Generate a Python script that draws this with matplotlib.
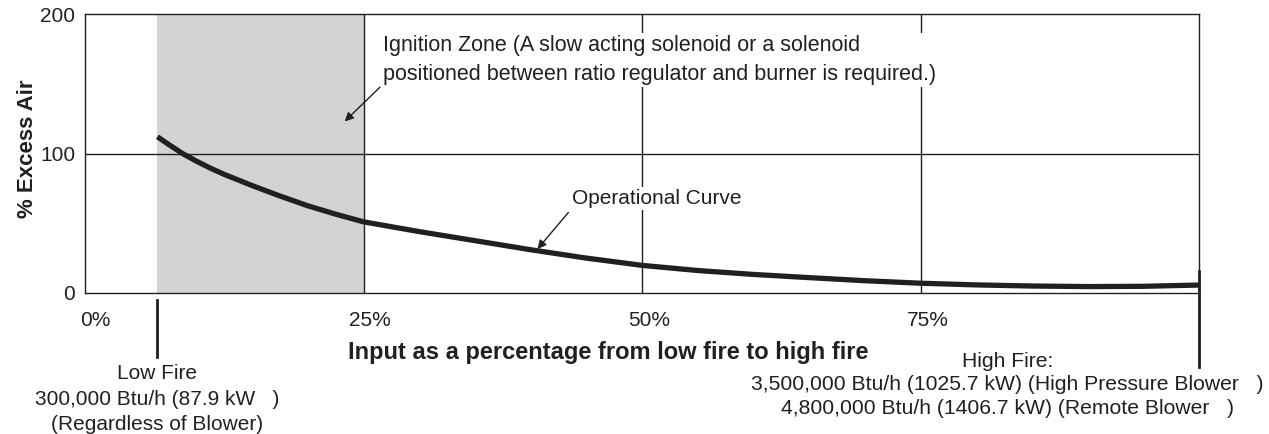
import numpy as np
import matplotlib
matplotlib.use('Agg')
import matplotlib.pyplot as plt
import matplotlib.transforms as mtransforms

plt.rcParams['font.family'] = ['Liberation Sans', 'DejaVu Sans']

INK = '#231f20'
ZONE = '#d1d3d4'

# operational curve (% input -> % excess air)
input_pct = [6.5, 7.5, 8.75, 10, 11.25, 12.5, 15, 17.5, 20, 22.5, 25, 30, 35,
             40, 45, 50, 55, 60, 65, 70, 75, 80, 85, 90, 95, 100]
excess_air = [112, 106.5, 100, 94.5, 89.5, 85, 77, 69.5, 62.5, 56.5, 51, 44,
              37.5, 31, 25, 19.8, 16.1, 13.3, 11, 8.8, 7, 5.8, 5, 4.6, 4.8, 5.7]

low_fire = 6.5
high_fire = 100
ignition_end = 25
x_grid = [25, 50, 75]
x_tick_labels = ['0%', '25%', '50%', '75%']
x_tick_pos = [0.9, 25.6, 50.6, 75.6]
y_ticks = [0, 100, 200]

fig = plt.figure(figsize=(12.69, 4.34), dpi=100)
ax = fig.add_axes([0.067, 0.3249, 0.8781, 0.6428])
ax.set_xlim(0, 100)
ax.set_ylim(0, 200)

ax.axvspan(low_fire, ignition_end, color=ZONE, lw=0, zorder=0)
for xg in x_grid:
    ax.axvline(xg, color=INK, lw=1.0, zorder=1)
ax.axhline(100, color=INK, lw=1.0, zorder=1)

ax.plot(input_pct, excess_air, color=INK, lw=3.8, solid_capstyle='butt',
        solid_joinstyle='round', zorder=3)

for s in ax.spines.values():
    s.set_color(INK)
    s.set_linewidth(1.0)

ax.set_xticks([])
ax.set_yticks(y_ticks)
ax.set_yticklabels([str(v) for v in y_ticks], fontsize=15, color=INK)
ax.tick_params(axis='y', length=0, pad=7)

trans = mtransforms.blended_transform_factory(ax.transData, ax.transAxes)
for xp, lab in zip(x_tick_pos, x_tick_labels):
    ax.text(xp, -0.097, lab, transform=trans, ha='center', va='center',
            fontsize=15, color=INK)

# low / high fire markers below the axis
ax.plot([low_fire, low_fire], [-0.025, -0.229], transform=trans, color=INK,
        lw=2, clip_on=False)
ax.plot([high_fire, high_fire], [0.079, -0.265], transform=trans, color=INK,
        lw=2, clip_on=False)

ax.text(-0.052, 0.516, '% Excess Air', transform=ax.transAxes, rotation=90,
        ha='center', va='center', fontsize=16, fontweight='bold', color=INK)
ax.text(0.470, -0.212, 'Input as a percentage from low fire to high fire',
        transform=ax.transAxes, ha='center', va='center', fontsize=17,
        fontweight='bold', color=INK)

ax.text(low_fire, -0.380,
        'Low Fire\n300,000 Btu/h (87.9 kW   )\n(Regardless of Blower)',
        transform=trans, ha='center', va='center', fontsize=15, color=INK,
        linespacing=1.45)
ax.text(0.828, -0.247, 'High Fire:', transform=ax.transAxes, ha='center',
        va='center', fontsize=15.2, color=INK)
ax.text(0.828, -0.371,
        '3,500,000 Btu/h (1025.7 kW) (High Pressure Blower   )\n'
        '4,800,000 Btu/h (1406.7 kW) (Remote Blower   )',
        transform=ax.transAxes, ha='center', va='center', fontsize=15.2,
        color=INK, linespacing=1.3)

box = dict(facecolor='white', edgecolor='none', pad=1.5)
ax.annotate('Ignition Zone (A slow acting solenoid or a solenoid\n'
            'positioned between ratio regulator and burner is required.)',
            xy=(23.3, 123), xytext=(26.7, 167), textcoords='data',
            ha='left', va='center', fontsize=15.5, color=INK, linespacing=1.45,
            bbox=box, zorder=4,
            arrowprops=dict(arrowstyle='-|>', color=INK, lw=1.0,
                            mutation_scale=13, shrinkA=0, shrinkB=0,
                            relpos=(0, 0)))
ax.annotate('Operational Curve', xy=(40.6, 31.5), xytext=(51.3, 67.5),
            textcoords='data', ha='center', va='center', fontsize=15,
            color=INK, bbox=box, zorder=4,
            arrowprops=dict(arrowstyle='-|>', color=INK, lw=1.0,
                            mutation_scale=13, shrinkA=2, shrinkB=0,
                            relpos=(0.0, 0.0)))

fig.savefig('out.png', dpi=100)
